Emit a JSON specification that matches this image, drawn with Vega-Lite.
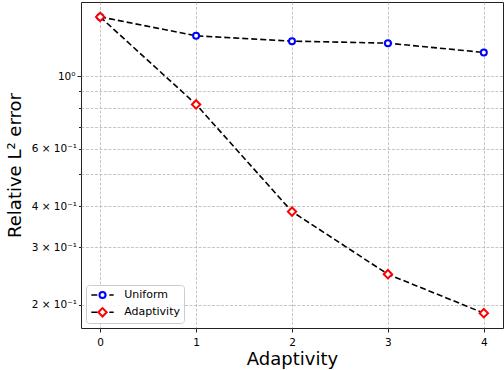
{
  "$schema": "https://vega.github.io/schema/vega-lite/v6.json",
  "width": 422,
  "height": 326,
  "autosize": "none",
  "padding": {"left": 81, "top": 2, "right": 1, "bottom": 42},
  "background": "white",
  "config": {
    "view": {"stroke": "#222222", "strokeWidth": 1},
    "font": "DejaVu Sans",
    "axis": {
      "domain": false,
      "labelFont": "DejaVu Sans",
      "labelFontSize": 10.5,
      "labelColor": "black",
      "titleFont": "DejaVu Sans",
      "titleFontSize": 18,
      "titleFontWeight": "normal",
      "titleColor": "black",
      "tickColor": "#222222",
      "tickWidth": 1,
      "grid": true,
      "gridColor": "#b8b8b8",
      "gridDash": [3, 1.5],
      "gridWidth": 0.8
    }
  },
  "data": {
    "values": [
      {"step": 0, "error": 1.517, "method": "Uniform"},
      {"step": 1, "error": 1.328, "method": "Uniform"},
      {"step": 2, "error": 1.279, "method": "Uniform"},
      {"step": 3, "error": 1.261, "method": "Uniform"},
      {"step": 4, "error": 1.181, "method": "Uniform"},
      {"step": 0, "error": 1.517, "method": "Adaptivity"},
      {"step": 1, "error": 0.819, "method": "Adaptivity"},
      {"step": 2, "error": 0.385, "method": "Adaptivity"},
      {"step": 3, "error": 0.2477, "method": "Adaptivity"},
      {"step": 4, "error": 0.1883, "method": "Adaptivity"}
    ]
  },
  "encoding": {
    "x": {
      "field": "step",
      "type": "quantitative",
      "scale": {"domain": [-0.2, 4.2], "nice": false, "zero": false},
      "axis": {
        "values": [0, 1, 2, 3, 4],
        "format": "d",
        "tickSize": 4,
        "labelPadding": 5,
        "title": "Adaptivity",
        "titlePadding": 3
      }
    },
    "y": {
      "field": "error",
      "type": "quantitative",
      "scale": {"type": "log", "domain": [0.1696, 1.685], "nice": false},
      "axis": {
        "values": [0.2, 0.3, 0.4, 0.5, 0.6, 0.7, 0.8, 0.9, 1],
        "labelExpr": "datum.value == 1 ? '10⁰' : datum.value == 0.6 ? '6 × 10⁻¹' : datum.value == 0.4 ? '4 × 10⁻¹' : datum.value == 0.3 ? '3 × 10⁻¹' : datum.value == 0.2 ? '2 × 10⁻¹' : ''",
        "tickSize": {"condition": {"test": "datum.value == 1", "value": 4}, "value": 2.5},
        "labelPadding": 2,
        "title": "Relative L² error",
        "titlePadding": 7
      }
    }
  },
  "layer": [
    {
      "mark": {"type": "line", "strokeDash": [6, 3], "strokeWidth": 1.6},
      "encoding": {
        "color": {
          "field": "method",
          "type": "nominal",
          "scale": {"domain": ["Uniform", "Adaptivity"], "range": ["black", "black"]},
          "legend": {
            "title": null,
            "orient": "none",
            "legendX": 5,
            "legendY": 283,
            "symbolType": "stroke",
            "symbolSize": 500,
            "symbolStrokeWidth": 1.6,
            "symbolDash": [6, 3],
            "symbolStrokeColor": "black",
            "clipHeight": 12,
            "rowPadding": 5.3,
            "padding": 4,
            "symbolOffset": 0.5,
            "labelOffset": 9.7,
            "labelFontSize": 11,
            "labelFont": "DejaVu Sans",
            "labelColor": "black",
            "labelLimit": 0,
            "fillColor": "rgba(255,255,255,0.85)",
            "strokeColor": "#cccccc",
            "cornerRadius": 3
          }
        }
      }
    },
    {
      "mark": {"type": "point", "filled": false, "fill": "white", "strokeWidth": 2, "opacity": 1},
      "encoding": {
        "stroke": {
          "field": "method",
          "type": "nominal",
          "sort": "descending",
          "scale": {"range": ["#0000ff", "#ff0000"]},
          "legend": {
            "title": null,
            "orient": "none",
            "legendX": 5,
            "legendY": 283,
            "symbolStrokeWidth": 2,
            "symbolFillColor": "white",
            "symbolOpacity": 1,
            "clipHeight": 12,
            "rowPadding": 5.3,
            "padding": 4,
            "symbolOffset": 7,
            "labelExpr": "''",
            "labelFontSize": 11
          }
        },
        "shape": {
          "field": "method",
          "type": "nominal",
          "sort": "descending",
          "scale": {"range": ["circle", "diamond"]},
          "legend": {
            "title": null,
            "orient": "none",
            "legendX": 5,
            "legendY": 283,
            "symbolStrokeWidth": 2,
            "symbolFillColor": "white",
            "symbolOpacity": 1,
            "clipHeight": 12,
            "rowPadding": 5.3,
            "padding": 4,
            "symbolOffset": 7,
            "labelExpr": "''",
            "labelFontSize": 11
          }
        },
        "size": {
          "field": "method",
          "type": "nominal",
          "sort": "descending",
          "scale": {"range": [36, 70]},
          "legend": {
            "title": null,
            "orient": "none",
            "legendX": 5,
            "legendY": 283,
            "symbolStrokeWidth": 2,
            "symbolFillColor": "white",
            "symbolOpacity": 1,
            "clipHeight": 12,
            "rowPadding": 5.3,
            "padding": 4,
            "symbolOffset": 7,
            "labelExpr": "''",
            "labelFontSize": 11
          }
        }
      }
    }
  ]
}
